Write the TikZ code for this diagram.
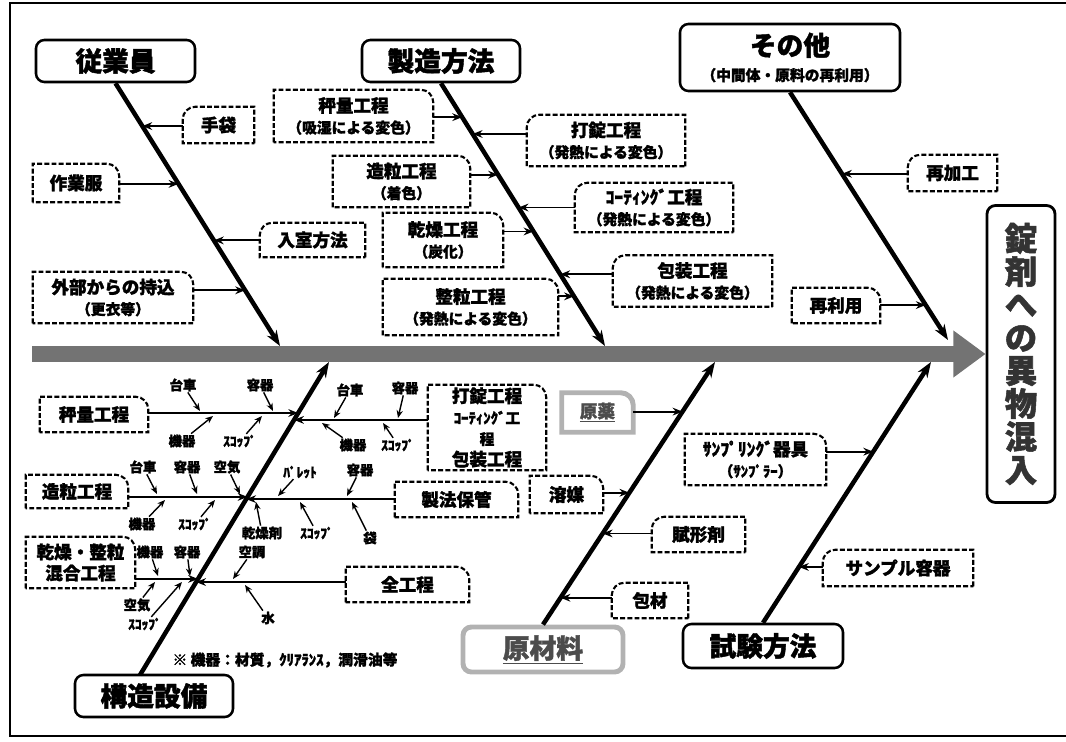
\documentclass[tikz,border=0pt]{standalone}
\usepackage{fontspec}
\setmainfont{Noto Sans CJK JP}[FakeBold=1.6, BoldFeatures={FakeBold=1.6}]
\usetikzlibrary{arrows.meta}
\newdimen\px \px=0.025cm
\newdimen\arcr \arcr=9pt
\newcommand*{\subtxt}{\fontsize{10.5}{12.5}\selectfont}
\tikzstyle{category} = [draw, line width=1.8pt, rounded corners=6pt, inner sep=1pt, align=center, font=\bfseries\fontsize{19}{22}\selectfont]
\tikzstyle{cause} = [inner sep=1pt, align=center, font=\bfseries\fontsize{12.5}{15}\selectfont]
\tikzstyle{note} = [inner sep=0.5pt, font=\bfseries\fontsize{9.5}{10}\selectfont]
\tikzstyle{dashbox} = [line width=1.5pt, dash pattern=on 3.5pt off 1.6pt]
\tikzstyle{rawbox} = [line width=3.5pt, draw=gray!60]
\tikzstyle{bone} = [line width=3.2pt, -{Stealth[length=11pt, width=8pt]}]
\tikzstyle{feed} = [line width=1.3pt, -{Stealth[length=7pt, width=5.5pt]}]
\tikzstyle{tick} = [line width=1pt, -{Stealth[length=5.5pt, width=4.5pt]}]
\tikzstyle{spine} = [line width=11.4pt, draw=black!55, -{Triangle[length=23pt, width=32pt]}]
\newcommand*{\boxR}[2][dashbox]{\draw [#1] (#2.south west) -- (#2.north west) -- ([xshift=-\arcr]#2.north east) arc [start angle=90, end angle=0, radius=\arcr] -- (#2.south east) -- cycle;}
\newcommand*{\boxL}[2][dashbox]{\draw [#1] (#2.south east) -- (#2.north east) -- ([xshift=\arcr]#2.north west) arc [start angle=90, end angle=180, radius=\arcr] -- (#2.south west) -- cycle;}

\begin{document}
\begin{tikzpicture}[x=0.025cm, y=-0.025cm]
    \useasboundingbox (0,0) rectangle (1066,742);
    \draw [line width=1.4pt] (1066,3) -- (10,3) -- (10,736) -- (1066,736);

    % Effect and spine.
    \node (effect) [category, line width=2pt, minimum width=68\px, minimum height=297\px, text=black!80, font=\bfseries\fontsize{23}{23.5}\selectfont] at (1021,354) {錠\\剤\\へ\\の\\異\\物\\混\\入};
    \coordinate (spine start) at (32,354);
    \draw [spine] (spine start) -- (effect.west);

    % Categories.
    \node (emp) [category, minimum width=159\px, minimum height=42\px] at (115.5,61) {従業員};
    \node (mfg) [category, minimum width=158\px, minimum height=42\px] at (441,61) {製造方法};
    \node (other) [category, minimum width=220\px, minimum height=67\px] at (790,57.5) {その他\\[-4pt]{\subtxt （中間体・原料の再利用）}};
    \node (equip) [category, minimum width=158\px, minimum height=42\px] at (154,696) {構造設備};
    \node (mat) [category, draw=gray!60, line width=3.5pt, text=gray!60!black, minimum width=160\px, minimum height=45\px] at (543,649.5) {\underline{原材料}};
    \node (test) [category, minimum width=160\px, minimum height=44\px] at (763,646) {試験方法};

    % Causes.
    \node (glove) [cause, minimum width=71\px, minimum height=36\px] at (218.5,125) {手袋};
    \node (wear) [cause, minimum width=86\px, minimum height=38\px] at (76,183) {作業服};
    \node (entry) [cause, minimum width=105\px, minimum height=34\px] at (312.5,240) {入室方法};
    \node (bring) [cause, minimum width=160\px, minimum height=51\px] at (113,297.5) {外部からの持込\\{\subtxt （更衣等）}};
    \node (wt) [cause, minimum width=159\px, minimum height=52\px] at (353.5,116) {秤量工程\\{\subtxt （吸湿による変色）}};
    \node (tab) [cause, minimum width=158\px, minimum height=51\px] at (606,140.5) {打錠工程\\{\subtxt （発熱による変色）}};
    \node (gran) [cause, minimum width=137\px, minimum height=51\px] at (401.5,181.5) {造粒工程\\{\subtxt （着色）}};
    \node (coat) [cause, minimum width=158\px, minimum height=49\px] at (654,207.5) {ｺｰﾃｨﾝｸﾞ工程\\{\subtxt （発熱による変色）}};
    \node (dry) [cause, minimum width=120\px, minimum height=54\px] at (443,240) {乾燥工程\\{\subtxt （炭化）}};
    \node (pack) [cause, minimum width=159\px, minimum height=51\px] at (692.5,281) {包装工程\\{\subtxt （発熱による変色）}};
    \node (size) [cause, minimum width=175\px, minimum height=56\px] at (470.5,307) {整粒工程\\{\subtxt （発熱による変色）}};
    \node (rework) [cause, minimum width=89\px, minimum height=36\px] at (952.5,173) {再加工};
    \node (reuse) [cause, minimum width=88\px, minimum height=35\px] at (836,305.5) {再利用};
    \node (smp) [cause, minimum width=141\px, minimum height=51\px] at (755.5,459.5) {ｻﾝﾌﾟﾘﾝｸﾞ器具\\{\subtxt （ｻﾝﾌﾟﾗｰ）}};
    \node (cont) [cause, minimum width=150\px, minimum height=36\px] at (898,568) {サンプル容器};
    \node (api) [cause, text=gray!60!black, minimum width=71\px, minimum height=39\px] at (597.5,412.5) {\underline{原薬}};
    \node (solv) [cause, minimum width=73\px, minimum height=37\px] at (566.5,494.5) {溶媒};
    \node (exc) [cause, minimum width=93\px, minimum height=35\px] at (698.5,534.5) {賦形剤};
    \node (pkg) [cause, minimum width=76\px, minimum height=35\px] at (650,600.5) {包材};
    \node (wt2) [cause, minimum width=108\px, minimum height=35\px] at (94,414.5) {秤量工程};
    \node (proc) [cause, minimum width=118\px, minimum height=85\px] at (487,427.5) {打錠工程\\{\subtxt ｺｰﾃｨﾝｸﾞ工}\\{\subtxt 程}\\包装工程};
    \node (gran2) [cause, minimum width=102\px, minimum height=33\px] at (77,491.5) {造粒工程};
    \node (store) [cause, minimum width=123\px, minimum height=35\px] at (456.5,499.5) {製法保管};
    \node (dry2) [cause, minimum width=109\px, minimum height=51\px] at (80.5,562.5) {乾燥・整粒\\混合工程};
    \node (all) [cause, minimum width=123\px, minimum height=35\px] at (407.5,584.5) {全工程};

    \foreach \n in {wear, bring, wt, gran, dry, size, reuse, smp, solv, wt2, proc, gran2, store, dry2, all}
        \boxR{\n};
    \foreach \n in {glove, entry, tab, coat, pack, rework, cont, exc, pkg}
        \boxL{\n};
    \boxR[rawbox]{api};

    % Bones.
    \coordinate (emp end) at (280,346);
    \coordinate (mfg end) at (605,346);
    \coordinate (other end) at (948,340);
    \coordinate (equip top) at (140,675);
    \coordinate (equip end) at (329,362);
    \coordinate (mat end) at (715,362);
    \coordinate (test end) at (931,362);
    \draw [bone] (emp.south) -- coordinate [pos=0.163] (emp 1) coordinate [pos=0.383] (emp 2)
        coordinate [pos=0.598] (emp 3) coordinate [pos=0.788] (emp 4) (emp end);
    \draw [bone] (mfg.south) -- coordinate [pos=0.129] (mfg 1) coordinate [pos=0.193] (mfg 2)
        coordinate [pos=0.348] (mfg 3) coordinate [pos=0.473] (mfg 4) coordinate [pos=0.564] (mfg 5)
        coordinate [pos=0.727] (mfg 6) coordinate [pos=0.811] (mfg 7) (mfg end);
    \draw [bone] (other.south) -- coordinate [pos=0.329] (other 1) coordinate [pos=0.859] (other 2) (other end);
    \draw [bone] (equip top) -- coordinate [pos=0.307] (eq 1) coordinate [pos=0.297] (eq 2)
        coordinate [pos=0.569] (eq 3) coordinate [pos=0.562] (eq 4) coordinate [pos=0.837] (eq 5)
        coordinate [pos=0.815] (eq 6) (equip end);
    \draw [bone] (mat.north) -- coordinate [pos=0.102] (mat 1) coordinate [pos=0.347] (mat 2)
        coordinate [pos=0.502] (mat 3) coordinate [pos=0.811] (mat 4) (mat end);
    \draw [bone] (test.north) -- coordinate [pos=0.214] (test 1) coordinate [pos=0.656] (test 2) (test end);

    % Arrows.
    \draw [feed] (glove.west |- emp 1) -- (emp 1);
    \draw [feed] (wear.east |- emp 2) -- (emp 2);
    \draw [feed] (entry.west |- emp 3) -- (emp 3);
    \draw [feed] (bring.east |- emp 4) -- (emp 4);
    \draw [feed] (wt.east |- mfg 1) -- (mfg 1);
    \draw [feed] (tab.west |- mfg 2) -- (mfg 2);
    \draw [feed] (gran.east |- mfg 3) -- (mfg 3);
    \draw [feed] (coat.west |- mfg 4) -- (mfg 4);
    \draw [feed] (dry.east |- mfg 5) -- (mfg 5);
    \draw [feed] (pack.west |- mfg 6) -- (mfg 6);
    \draw [feed] (size.east |- mfg 7) -- (mfg 7);
    \draw [feed] (rework.west |- other 1) -- (other 1);
    \draw [feed] (reuse.east |- other 2) -- (other 2);
    \draw [feed] (dry2.east |- eq 1) -- (eq 1);
    \draw [feed] (all.west |- eq 2) -- (eq 2);
    \draw [feed] (gran2.east |- eq 3) -- (eq 3);
    \draw [feed] (store.west |- eq 4) -- (eq 4);
    \draw [feed] (wt2.east |- eq 5) -- (eq 5);
    \draw [feed] (proc.west |- eq 6) -- (eq 6);
    \draw [feed] (pkg.west |- mat 1) -- (mat 1);
    \draw [feed] (exc.west |- mat 2) -- (mat 2);
    \draw [feed] (solv.east |- mat 3) -- (mat 3);
    \draw [feed] (api.east |- mat 4) -- (mat 4);
    \draw [feed] (cont.west |- test 1) -- (test 1);
    \draw [feed] (smp.east |- test 2) -- (test 2);

    % Small causes on the equipment branches.
    \foreach \t/\lx/\ly/\tx/\ty [count=\i] in {
        台車/183/385/200/411, 容器/260/385/273/411, 機器/182/441/213/416, ｽｺｯﾌﾟ/240/441/262/416,
        台車/350/390/334/418, 容器/405/388/398/418, 機器/353/445/322/423, ｽｺｯﾌﾟ/398/445/383/423,
        台車/143/467/157/494, 容器/187/467/197/494, 空気/227/467/240/494, 機器/142/524/165/500, ｽｺｯﾌﾟ/195/524/215/500,
        ﾊﾟﾚｯﾄ/300/472/278/496, 容器/360/470/347/496, 乾燥剤/262/533/256/502, ｽｺｯﾌﾟ/317/533/300/502, 袋/370/538/352/502,
        機器/150/552/158/576, 容器/187/552/190/576, 空気/137/605/155/582, ｽｺｯﾌﾟ/145/624/182/582,
        空調/252/552/233/579, 水/268/618/245/585} {%
        \node (small \i) [note] at (\lx,\ly) {\t};
        \coordinate (small \i tip) at (\tx,\ty);
        \draw [tick] (small \i) -- (small \i tip);
    }

    \node (footnote) [note, font=\bfseries\fontsize{10.5}{12}\selectfont] at (285,660) {※ 機器：材質，ｸﾘｱﾗﾝｽ，潤滑油等};
\end{tikzpicture}
\end{document}
